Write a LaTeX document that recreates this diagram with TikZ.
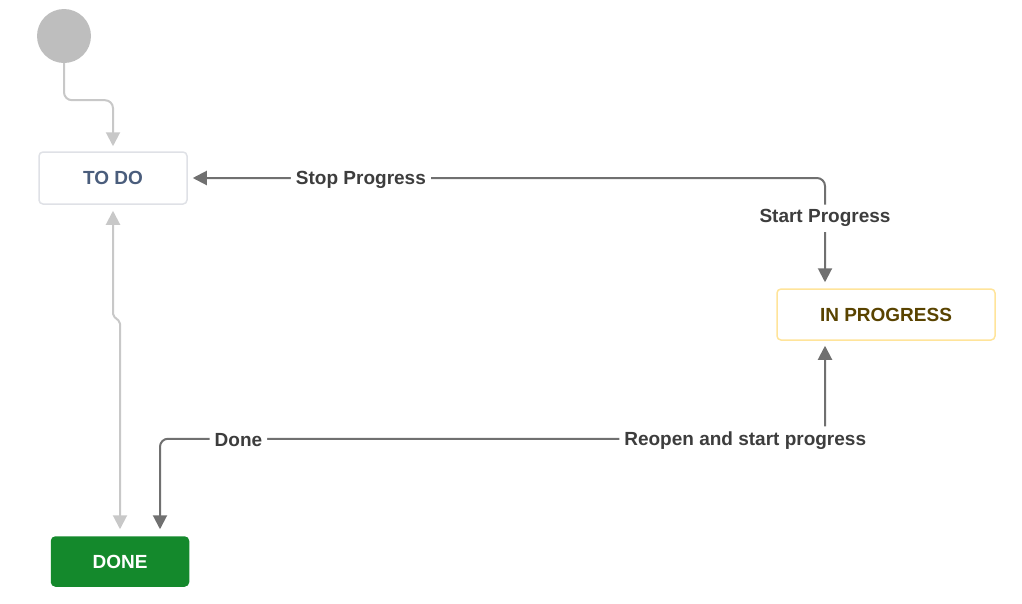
\documentclass[tikz,border=0pt]{standalone}
\usepackage{fontspec}
\setmainfont{Liberation Sans}
\usetikzlibrary{arrows.meta,positioning}

\definecolor{flowgray}{HTML}{707070}
\definecolor{flowlight}{HTML}{C8C8C8}
\definecolor{startfill}{HTML}{BEBEBE}
\definecolor{todoline}{HTML}{DFE1E6}
\definecolor{todotext}{HTML}{4A5D7C}
\definecolor{progline}{HTML}{FFE49A}
\definecolor{progtext}{HTML}{594300}
\definecolor{donefill}{HTML}{14892C}
\definecolor{labeltext}{HTML}{3D3D3D}

\begin{document}
\begin{tikzpicture}[x=1pt,y=-1pt,
  >={Triangle[width=14pt,length=14pt]},
  every node/.style={font=\fontsize{19}{22}\selectfont\bfseries},
  status/.style={rectangle,rounded corners=4pt,line width=1.5pt,inner sep=0pt},
  flow/.style={draw=flowgray,line width=2pt,rounded corners=8pt},
  lightflow/.style={draw=flowlight,line width=2pt},
  lbl/.style={fill=white,text=labeltext,inner sep=5pt,yshift=-1.5pt}]
\useasboundingbox (0,0) rectangle (1022,603);

% Start point
\node[circle,fill=startfill,minimum size=54pt,inner sep=0pt] (start) at (64,36) {};

% Statuses
\node[status,draw=todoline,text=todotext,minimum width=148pt,minimum height=52pt] (todo) at (113,178) {TO DO};
\node[status,draw=progline,text=progtext,minimum width=218pt,minimum height=51pt] (inprog) at (886,314.5) {IN PROGRESS};
\node[status,draw=donefill,fill=donefill,text=white,minimum width=137pt,minimum height=49pt] (done) at (120,561.5) {DONE};

% Create
\draw[lightflow,rounded corners=8pt,->] (start.south) -- ++(0,37) -| ([yshift=5pt]todo.north);

% TO DO <-> DONE
\draw[lightflow,rounded corners=2pt,<->] ([yshift=-6pt]todo.south) -- ++(0,105) -- ++(7,6) -- ([yshift=7pt]done.north);

% Stop / Start Progress
\draw[flow,<->] ([xshift=5pt]todo.east) -| ([xshift=-61pt,yshift=6pt]inprog.north)
  node[lbl,pos=0.133] (stoplbl) {Stop Progress}
  node[lbl,pos=0.686] (startlbl) {Start Progress};

% Reopen / Done
\draw[flow,<->] ([xshift=-61pt,yshift=-5pt]inprog.south) -- ++(0,93) -| ([xshift=40pt,yshift=7pt]done.north)
  node[lbl,pos=0.06] (reopenlbl) {Reopen and start progress}
  node[lbl,pos=0.441] (donelbl) {Done};

\end{tikzpicture}
\end{document}
